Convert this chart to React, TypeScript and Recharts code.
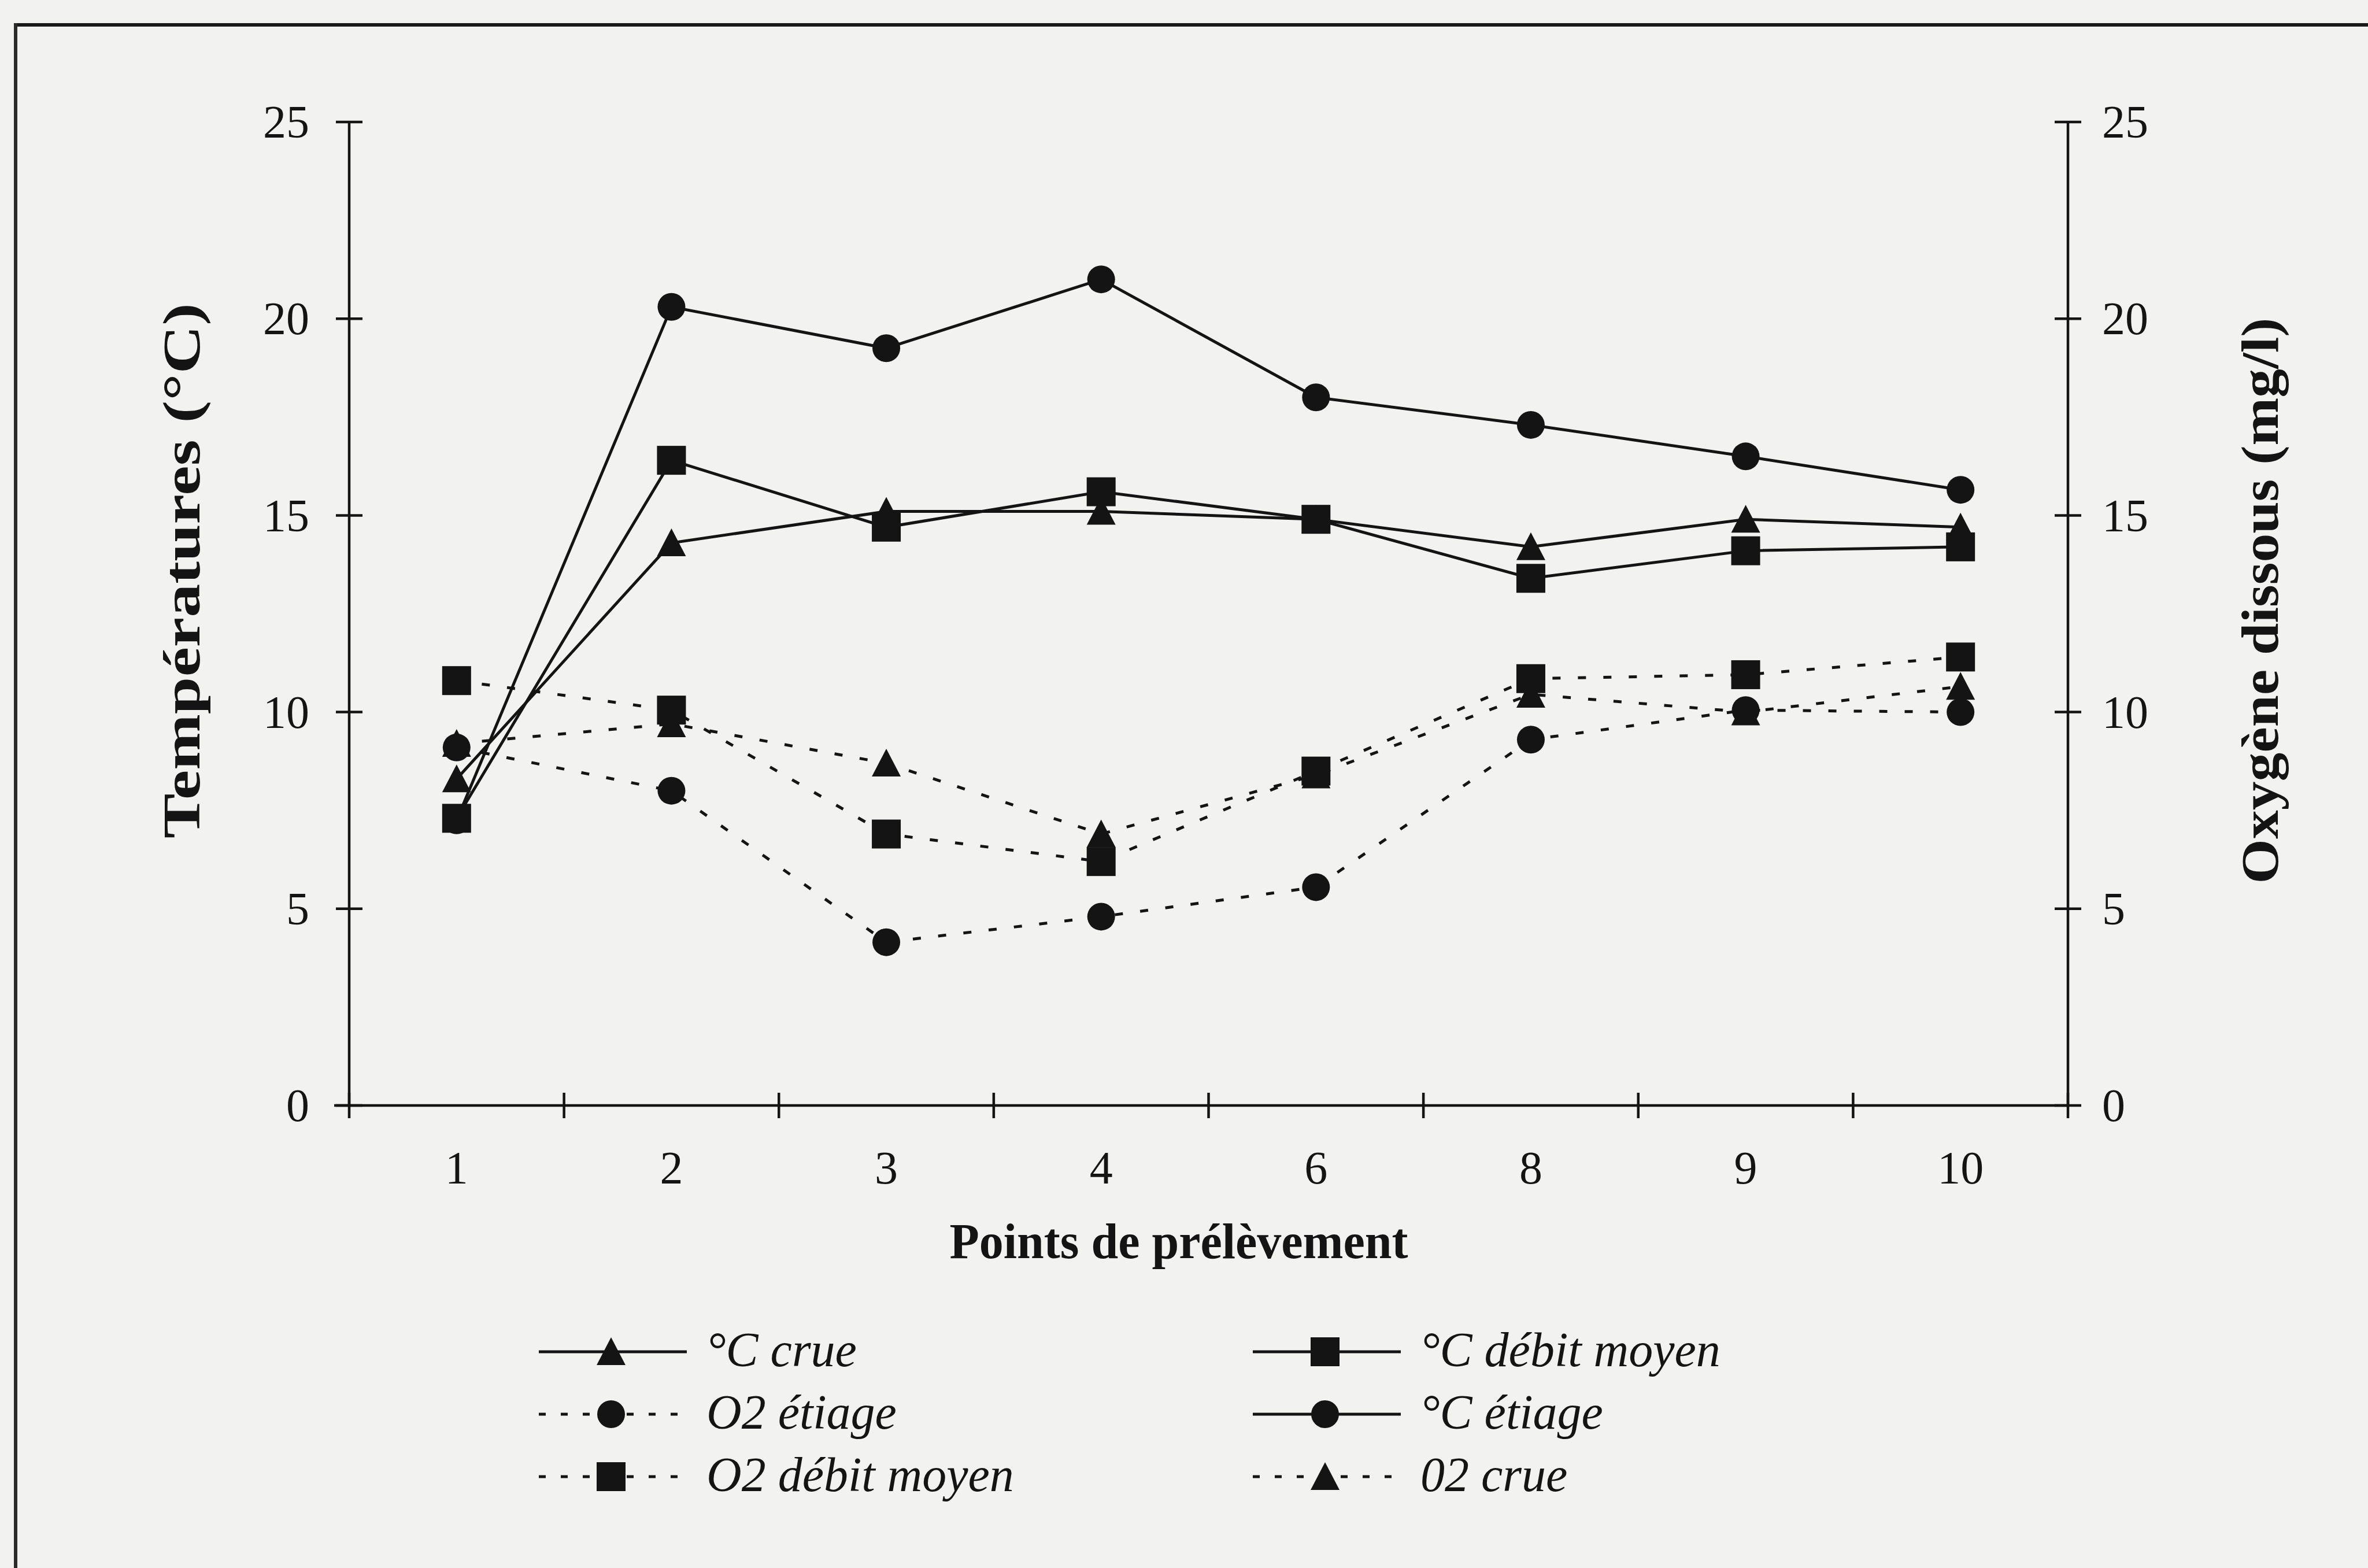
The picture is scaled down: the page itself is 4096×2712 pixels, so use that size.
import { LineChart, Line, XAxis, YAxis, Legend } from 'recharts'

// sampling points along the river (category labels)
const points = ['1', '2', '3', '4', '6', '8', '9', '10']

// temperatures (°C), left axis
const tempCrue = [8.3, 14.3, 15.1, 15.1, 14.9, 14.2, 14.9, 14.7]
const tempDebitMoyen = [7.3, 16.4, 14.7, 15.6, 14.9, 13.4, 14.1, 14.2]
const tempEtiage = [7.25, 20.3, 19.25, 21.0, 18.0, 17.3, 16.5, 15.65]

// dissolved oxygen (mg/l), right axis
const o2Etiage = [9.1, 8.0, 4.15, 4.8, 5.55, 9.3, 10.05, 10.0]
const o2DebitMoyen = [10.8, 10.05, 6.9, 6.2, 8.5, 10.85, 10.95, 11.4]
const o2Crue = [9.2, 9.7, 8.7, 6.9, 8.4, 10.45, 10.0, 10.65]

const yTicks = [0, 5, 10, 15, 20, 25]

const INK = '#141414'
const SERIF = '"Liberation Serif", "Times New Roman", serif'

const W = 4096
const H = 2712
const PLOT_LEFT = 604
const PLOT_RIGHT = 3577
const PLOT_TOP = 211
const PLOT_BOTTOM = 1912
const AXIS_W = 200
const XAXIS_H = 150

type Shape = 'triangle' | 'square' | 'circle'

const series: { key: string; name: string; shape: Shape; dashed: boolean; axis: 'temp' | 'o2'; values: number[] }[] = [
  { key: 'o2Crue', name: '02 crue', shape: 'triangle', dashed: true, axis: 'o2', values: o2Crue },
  { key: 'tempCrue', name: '°C crue', shape: 'triangle', dashed: false, axis: 'temp', values: tempCrue },
  { key: 'tempEtiage', name: '°C étiage', shape: 'circle', dashed: false, axis: 'temp', values: tempEtiage },
  { key: 'o2Etiage', name: 'O2 étiage', shape: 'circle', dashed: true, axis: 'o2', values: o2Etiage },
  { key: 'o2DebitMoyen', name: 'O2 débit moyen', shape: 'square', dashed: true, axis: 'o2', values: o2DebitMoyen },
  { key: 'tempDebitMoyen', name: '°C débit moyen', shape: 'square', dashed: false, axis: 'temp', values: tempDebitMoyen },
]

// legend is filled column by column, 3 rows
const legendOrder = ['°C crue', 'O2 étiage', 'O2 débit moyen', '°C débit moyen', '°C étiage', '02 crue']

const data = points.map((label, i) => {
  const row: Record<string, number | string> = { pos: i, label }
  series.forEach((s) => {
    row[s.key] = s.values[i]
  })
  return row
})

const xTicks = [...points.flatMap((_, i) => [i - 0.5, i]), points.length - 0.5]

function Marker({ shape, cx, cy }: { shape: Shape; cx: number; cy: number }) {
  if (shape === 'circle') return <circle cx={cx} cy={cy} r={24} fill={INK} />
  if (shape === 'square') return <rect x={cx - 25} y={cy - 25} width={50} height={50} fill={INK} />
  return <polygon points={`${cx},${cy - 25} ${cx + 25},${cy + 23} ${cx - 25},${cy + 23}`} fill={INK} />
}

function LeftTick(props: any) {
  const { x, y, payload } = props
  return (
    <g>
      <line x1={x - 23} x2={x + 23} y1={y} y2={y} stroke={INK} strokeWidth={4.5} />
      <text x={x - 69} y={y} dy="0.34em" textAnchor="end" fontSize={80} fontFamily={SERIF} fill={INK}>
        {payload.value}
      </text>
    </g>
  )
}

function RightTick(props: any) {
  const { x, y, payload } = props
  return (
    <g>
      <line x1={x - 23} x2={x + 23} y1={y} y2={y} stroke={INK} strokeWidth={4.5} />
      <text x={x + 59} y={y} dy="0.34em" textAnchor="start" fontSize={80} fontFamily={SERIF} fill={INK}>
        {payload.value}
      </text>
    </g>
  )
}

function BottomTick(props: any) {
  const { x, y, payload } = props
  const v = payload.value as number
  if (Number.isInteger(v)) {
    return (
      <text x={x} y={y + 108} dy="0.34em" textAnchor="middle" fontSize={80} fontFamily={SERIF} fill={INK}>
        {points[v]}
      </text>
    )
  }
  return (
    <g stroke={INK} strokeWidth={4.5}>
      <line x1={x} x2={x} y1={y - 22} y2={y + 22} />
      {v < 0 && <line x1={x - 26} x2={x} y1={y} y2={y} />}
    </g>
  )
}

function AxisTitle(props: any) {
  const { viewBox, text, dx, dy, rotate, length, size } = props
  const cx = viewBox.x + (dx ?? viewBox.width / 2)
  const cy = viewBox.y + (dy ?? viewBox.height / 2)
  return (
    <text
      x={cx}
      y={cy}
      dy="0.35em"
      textAnchor="middle"
      fontSize={size}
      fontWeight="bold"
      fontFamily={SERIF}
      fill={INK}
      textLength={length}
      lengthAdjust="spacingAndGlyphs"
      transform={rotate ? `rotate(${rotate} ${cx} ${cy})` : undefined}
    >
      {text}
    </text>
  )
}

function LegendBox(props: any) {
  const payload = (props.payload ?? []) as { value: string }[]
  const byName = new Map(series.map((s) => [s.name, s]))
  const names = legendOrder.filter((n) => payload.some((p) => p.value === n))
  return (
    <svg width={2000} height={340} style={{ overflow: 'visible', display: 'block' }}>
      {names.map((name, i) => {
        const s = byName.get(name)!
        const col = Math.floor(i / 3)
        const row = i % 3
        const x0 = col === 0 ? 32 : 1267
        const y = 68 + row * 108
        return (
          <g key={name}>
            <line
              x1={x0}
              x2={x0 + 256}
              y1={y}
              y2={y}
              stroke={INK}
              strokeWidth={s.dashed ? 5 : 5}
              strokeDasharray={s.dashed ? '12 26' : undefined}
            />
            <Marker shape={s.shape} cx={x0 + 125} cy={y} />
            <text x={x0 + 290} y={y} dy="0.3em" fontSize={84} fontStyle="italic" fontFamily={SERIF} fill={INK}>
              {name}
            </text>
          </g>
        )
      })}
    </svg>
  )
}

export default function App() {
  return (
    <div style={{ position: 'fixed', left: 0, top: 0, width: W, height: H, background: '#f2f2f1', overflow: 'hidden' }}>
      <div style={{ position: 'absolute', left: 24, top: 40, right: 0, height: 6, background: '#1a1a1a' }} />
      <div style={{ position: 'absolute', left: 24, top: 40, bottom: 0, width: 6, background: '#2a2a2a' }} />
      <LineChart
        width={W}
        height={H}
        data={data}
        margin={{
          top: PLOT_TOP,
          left: PLOT_LEFT - AXIS_W,
          right: W - PLOT_RIGHT - AXIS_W,
          bottom: H - PLOT_BOTTOM - XAXIS_H,
        }}
        style={{ position: 'absolute', left: 0, top: 0 }}
      >
        <XAxis
          type="number"
          dataKey="pos"
          domain={[-0.5, points.length - 0.5]}
          ticks={xTicks}
          interval={0}
          height={XAXIS_H}
          tickSize={0}
          tickMargin={0}
          tickLine={false}
          axisLine={{ stroke: INK, strokeWidth: 4.5 }}
          tick={<BottomTick />}
          label={<AxisTitle text="Points de prélèvement" dy={234} dx={1435} size={86} length={793} />}
        />
        <YAxis
          yAxisId="temp"
          orientation="left"
          domain={[0, 25]}
          ticks={yTicks}
          width={AXIS_W}
          tickSize={0}
          tickMargin={0}
          tickLine={false}
          axisLine={{ stroke: INK, strokeWidth: 4.5 }}
          tick={<LeftTick />}
          label={<AxisTitle text="Températures (°C)" dx={-91} dy={776} rotate={-90} size={90} length={926} />}
        />
        <YAxis
          yAxisId="o2"
          orientation="right"
          domain={[0, 25]}
          ticks={yTicks}
          width={AXIS_W}
          tickSize={0}
          tickMargin={0}
          tickLine={false}
          axisLine={{ stroke: INK, strokeWidth: 4.5 }}
          tick={<RightTick />}
          label={<AxisTitle text="Oxygène dissous (mg/l)" dx={331} dy={828} rotate={-90} size={90} length={979} />}
        />
        <Legend
          layout="vertical"
          align="center"
          verticalAlign="middle"
          width={2000}
          height={340}
          wrapperStyle={{ left: 900, top: 2270, width: 2000, height: 340 }}
          content={<LegendBox />}
        />
        {series.map((s) => (
          <Line
            key={s.key}
            yAxisId={s.axis}
            dataKey={s.key}
            name={s.name}
            type="linear"
            stroke={INK}
            strokeWidth={5}
            strokeDasharray={s.dashed ? '14 30' : undefined}
            isAnimationActive={false}
            activeDot={false}
            dot={(p: any) => <Marker key={`${s.key}-${p.index}`} shape={s.shape} cx={p.cx} cy={p.cy} />}
          />
        ))}
      </LineChart>
    </div>
  )
}
